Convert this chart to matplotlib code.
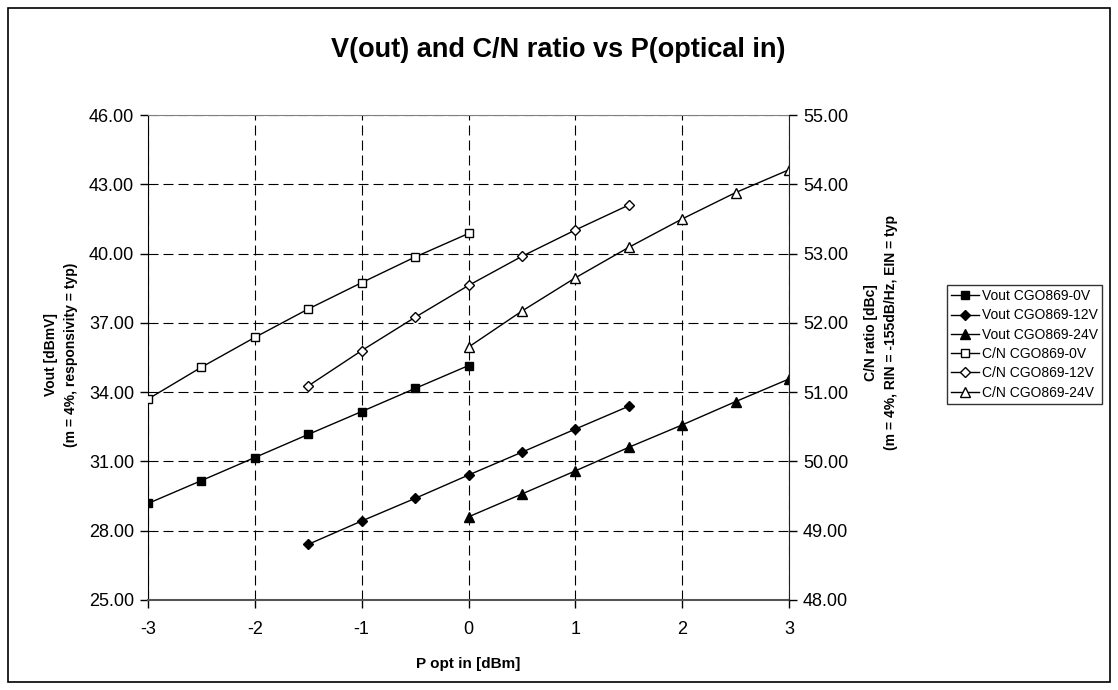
import matplotlib
matplotlib.use("Agg")
from matplotlib import pyplot as plt
from matplotlib.patches import Rectangle
from matplotlib.ticker import FormatStrFormatter

plt.rcParams['font.family'] = ['Liberation Sans', 'DejaVu Sans']
plt.rcParams['axes.unicode_minus'] = False

# data
p_0v = [-3, -2.5, -2, -1.5, -1, -0.5, 0]
p_12v = [-1.5, -1, -0.5, 0, 0.5, 1, 1.5]
p_24v = [0, 0.5, 1, 1.5, 2, 2.5, 3]

vout_0v = [29.18, 30.17, 31.17, 32.17, 33.16, 34.16, 35.15]
vout_12v = [27.41, 28.42, 29.40, 30.41, 31.40, 32.40, 33.39]
vout_24v = [28.60, 29.59, 30.59, 31.61, 32.58, 33.59, 34.57]

cn_0v = [50.90, 51.36, 51.79, 52.20, 52.58, 52.95, 53.29]
cn_12v = [51.09, 51.60, 52.08, 52.54, 52.96, 53.34, 53.70]
cn_24v = [51.65, 52.17, 52.65, 53.09, 53.50, 53.88, 54.21]

x_ticks = [-3, -2, -1, 0, 1, 2, 3]
left_ticks = [25, 28, 31, 34, 37, 40, 43, 46]
right_ticks = [48, 49, 50, 51, 52, 53, 54, 55]

W, H = 1118, 690
fig = plt.figure(figsize=(W / 100, H / 100), dpi=100)
ax = fig.add_axes([148 / W, 1 - 600 / H, (789 - 148) / W, (600 - 115) / H])
ax2 = ax.twinx()

lw = 1.0
h1, = ax.plot(p_0v, vout_0v, color='black', lw=lw, marker='s', ms=6, mfc='black', mec='black')
h2, = ax.plot(p_12v, vout_12v, color='black', lw=lw, marker='D', ms=5, mfc='black', mec='black')
h3, = ax.plot(p_24v, vout_24v, color='black', lw=lw, marker='^', ms=7, mfc='black', mec='black')
h4, = ax2.plot(p_0v, cn_0v, color='black', lw=lw, marker='s', ms=6, mfc='white', mec='black', mew=1)
h5, = ax2.plot(p_12v, cn_12v, color='black', lw=lw, marker='D', ms=5, mfc='white', mec='black', mew=1)
h6, = ax2.plot(p_24v, cn_24v, color='black', lw=lw, marker='^', ms=7, mfc='white', mec='black', mew=1)

ax.set_xlim(-3, 3)
ax.set_ylim(25, 46)
ax2.set_ylim(48, 55)
ax.set_xticks(x_ticks)
ax.set_yticks(left_ticks)
ax2.set_yticks(right_ticks)
ax.yaxis.set_major_formatter(FormatStrFormatter('%.2f'))
ax2.yaxis.set_major_formatter(FormatStrFormatter('%.2f'))

ax.grid(True, color='black', lw=0.8, linestyle=(0, (9, 4.5)))
ax.tick_params(direction='out', length=6, width=1, labelsize=13, pad=4)
ax.tick_params(axis='x', pad=9)
ax2.tick_params(direction='out', length=6, width=1, labelsize=13, pad=4)

for s in ['top', 'bottom', 'left', 'right']:
    ax2.spines[s].set_visible(False)
ax2.spines['right'].set_visible(True)
ax2.spines['right'].set_color('#222222')
ax.spines['right'].set_visible(False)
ax.spines['left'].set_color('black')
ax.spines['top'].set_color('#808080')
ax.spines['bottom'].set_color('#555555')
ax.spines['bottom'].set_linewidth(1.5)

fig.text(558 / W, 1 - 57 / H, 'V(out) and C/N ratio vs P(optical in)',
         ha='center', va='baseline', fontsize=19.5, fontweight='bold')
fig.text(0.5 * (148 + 789) / W, 1 - 664 / H, 'P opt in [dBm]',
         ha='center', va='center', fontsize=11, fontweight='bold')
fig.text(61 / W, 1 - 355 / H, 'Vout [dBmV]\n(m = 4%, responsivity = typ)',
         ha='center', va='center', rotation=90, fontsize=10, fontweight='bold',
         linespacing=1.5, multialignment='center')
fig.text(881 / W, 1 - 333 / H, 'C/N ratio [dBc]\n(m = 4%, RIN = -155dB/Hz, EIN = typ',
         ha='center', va='center', rotation=90, fontsize=10, fontweight='bold',
         linespacing=1.5, multialignment='center')

labels = ['Vout CGO869-0V', 'Vout CGO869-12V', 'Vout CGO869-24V',
          'C/N CGO869-0V', 'C/N CGO869-12V', 'C/N CGO869-24V']
leg = fig.legend([h1, h2, h3, h4, h5, h6], labels, loc='upper left',
                 bbox_to_anchor=(947 / W, 1 - 285 / H), bbox_transform=fig.transFigure,
                 borderaxespad=0, fontsize=10, frameon=True, fancybox=False,
                 handlelength=2.0, handletextpad=0.2, borderpad=0.3, labelspacing=0.38)
leg.get_frame().set_edgecolor('black')
leg.get_frame().set_linewidth(1.0)

fig.patches.append(Rectangle((8 / W, 8 / H), (1110 - 8) / W, (682 - 8) / H,
                             transform=fig.transFigure, fill=False, ec='black', lw=1.2))

fig.savefig('out.png', dpi=100)
